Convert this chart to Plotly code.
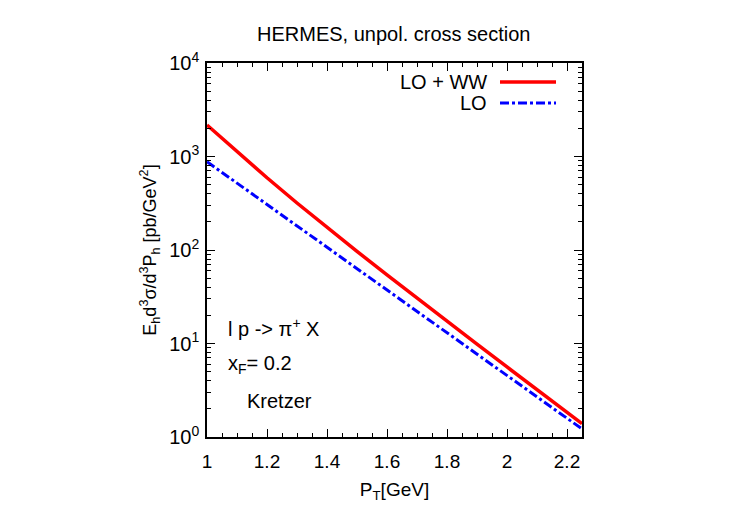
import plotly.graph_objects as go

pt = [1.0, 1.1, 1.2, 1.3, 1.4, 1.5, 1.6, 1.7, 1.8, 1.9, 2.0, 2.1, 2.2, 2.25]
lo_ww = [2173, 1122, 592, 318, 174, 96.6, 54.3, 30.5, 17.3, 9.84, 5.61, 3.21, 1.84, 1.39]
lo = [879, 519, 307, 181, 107, 63, 37.4, 22.1, 13.1, 7.7, 4.56, 2.69, 1.59, 1.22]

x_ticks = [1, 1.2, 1.4, 1.6, 1.8, 2, 2.2]
x_ticktext = ["1", "1.2", "1.4", "1.6", "1.8", "2", "2.2"]
y_ticks = [1, 10, 100, 1000, 10000]
y_ticktext = ["10<sup>0</sup>", "10<sup>1</sup>", "10<sup>2</sup>", "10<sup>3</sup>", "10<sup>4</sup>"]
y_minor = [m * d for d in (1, 10, 100, 1000) for m in range(2, 10)]

FONT = "Liberation Sans, Arial, sans-serif"

fig = go.Figure()
fig.add_trace(go.Scatter(x=pt, y=lo_ww, mode="lines", name="LO + WW",
                         line=dict(color="#ff0000", width=3.5), showlegend=False))
fig.add_trace(go.Scatter(x=pt, y=lo, mode="lines", name="LO",
                         line=dict(color="#0000ff", width=3, dash="dashdot"), showlegend=False))

W, H = 750, 525
L, R, T, B = 207, 168, 63, 88
pw, ph = W - L - R, H - T - B

def px(xp):
    return (xp - L) / pw

def py(yp):
    return 1 - (yp - T) / ph

fig.update_layout(
    width=W, height=H,
    margin=dict(l=L, r=R, t=T, b=B),
    paper_bgcolor="white", plot_bgcolor="white",
    font=dict(family=FONT, color="black", size=19),
    title=dict(text="HERMES, unpol. cross section", x=0.525, xanchor="center",
               y=1 - 34 / H, yanchor="middle", font=dict(size=20)),
    xaxis=dict(range=[1, 2.25], tickvals=x_ticks, ticktext=x_ticktext,
               ticks="inside", ticklen=8, tickcolor="black", tickwidth=1,
               mirror="allticks", showline=True, linecolor="black", linewidth=1.5,
               showgrid=False, zeroline=False, ticklabelstandoff=6,
               minor=dict(dtick=0.05, ticks="inside", ticklen=4, tickcolor="black", showgrid=False),
               title=dict(text="P<sub>T</sub>[GeV]", font=dict(size=19), standoff=12),
               tickfont=dict(size=19)),
    yaxis=dict(type="log", range=[0, 4], tickvals=y_ticks, ticktext=y_ticktext,
               ticks="inside", ticklen=8, tickcolor="black", tickwidth=1,
               mirror="allticks", showline=True, linecolor="black", linewidth=1.5,
               showgrid=False, zeroline=False, ticklabelstandoff=2,
               minor=dict(tickmode="array", tickvals=y_minor, ticks="inside", ticklen=4,
                          tickcolor="black", showgrid=False),
               title=dict(text="E<sub>h</sub>d<sup>3</sup>σ/d<sup>3</sup>P<sub>h</sub> [pb/GeV<sup>2</sup>]",
                          font=dict(size=18), standoff=8),
               tickfont=dict(size=20)),
)

# legend drawn manually (sample line to the right of the label)
legend_items = [("LO + WW", "#ff0000", "solid", 3.5, 82), ("LO", "#0000ff", "dashdot", 3, 103)]
for label, color, dash, width, yp in legend_items:
    fig.add_annotation(text=label, xref="paper", yref="paper", x=px(489), y=py(yp),
                       xanchor="right", yanchor="middle", showarrow=False, font=dict(size=20))
    fig.add_shape(type="line", xref="paper", yref="paper", x0=px(500), x1=px(556),
                  y0=py(yp), y1=py(yp), line=dict(color=color, width=width, dash=dash))

notes = [("l p -> π<sup>+</sup> X", 226, 327), ("x<sub>F</sub>= 0.2", 226, 364), ("Kretzer", 245, 401)]
for txt, xp, yp in notes:
    fig.add_annotation(text=txt, xref="paper", yref="paper", x=px(xp), y=py(yp),
                       xanchor="left", yanchor="middle", showarrow=False, font=dict(size=20))

fig.write_html("out.html")
